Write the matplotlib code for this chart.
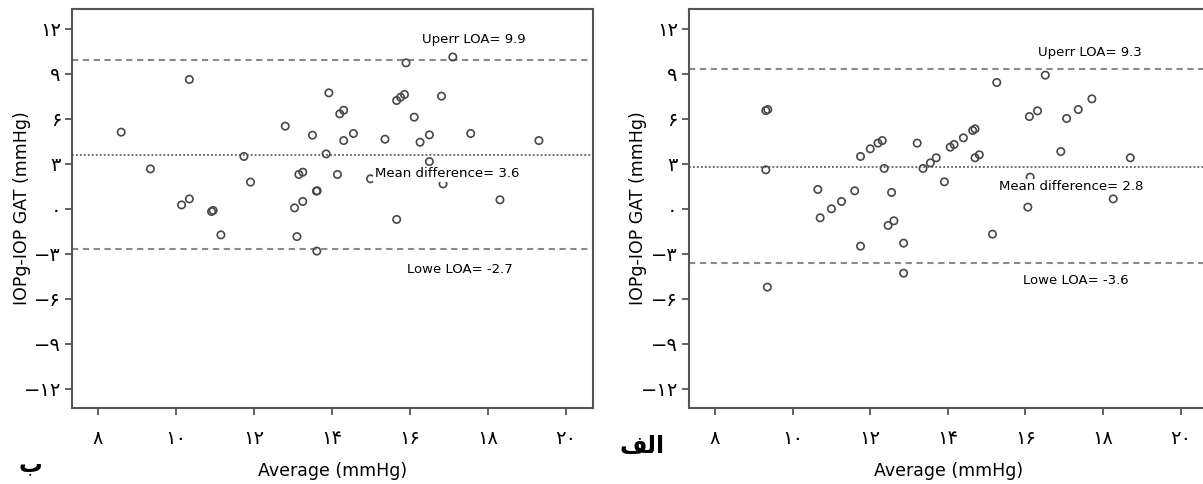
import matplotlib
matplotlib.use("Agg")
from matplotlib import pyplot as plt

# left panel (ب)
avg_b = [8.59, 9.34, 10.14, 10.34, 10.34, 10.91, 10.95, 11.15, 11.74, 11.91,
         12.80, 13.04, 13.10, 13.15, 13.25, 13.25, 13.50, 13.60, 13.62, 13.61,
         13.85, 13.92, 14.14, 14.20, 14.30, 14.30, 14.55, 14.99, 15.36, 15.66,
         15.76, 15.86, 15.66, 15.90, 16.11, 16.26, 16.50, 16.50, 16.85, 16.81,
         17.10, 17.56, 18.31, 19.31]
diff_b = [5.09, 2.64, 0.24, 0.64, 8.60, -0.20, -0.13, -1.76, 3.47, 1.76,
          5.49, 0.04, -1.87, 2.27, 2.42, 0.47, 4.89, 1.16, 1.18, -2.84,
          3.64, 7.71, 2.27, 6.31, 6.55, 4.53, 5.00, 1.98, 4.62, 7.20,
          7.42, 7.60, -0.73, 9.71, 6.09, 4.42, 4.91, 3.13, 1.64, 7.49,
          10.10, 5.00, 0.58, 4.53]
loa_b = {"upper": 9.9, "mean": 3.6, "lower": -2.7}

# right panel (الف)
avg_a = [9.31, 9.36, 9.31, 9.35, 10.65, 10.71, 11.00, 11.26, 11.60, 11.75,
         11.75, 12.00, 12.20, 12.31, 12.36, 12.55, 12.46, 12.61, 12.86, 12.86,
         13.21, 13.36, 13.55, 13.70, 13.91, 14.06, 14.16, 14.40, 14.64, 14.70,
         14.70, 14.81, 15.26, 15.15, 16.06, 16.10, 16.31, 16.12, 16.51, 16.91,
         17.06, 17.36, 17.71, 18.26, 18.70]
diff_a = [6.53, 6.60, 2.58, -5.24, 1.27, -0.62, -0.02, 0.47, 1.18, 3.47,
          -2.51, 3.98, 4.36, 4.53, 2.67, 1.07, -1.13, -0.82, -2.31, -4.31,
          4.36, 2.67, 3.04, 3.38, 1.78, 4.09, 4.27, 4.71, 5.20, 5.31,
          3.38, 3.58, 8.40, -1.71, 0.09, 6.13, 6.51, 2.09, 8.89, 3.80,
          6.00, 6.60, 7.31, 0.64, 3.38]
loa_a = {"upper": 9.3, "mean": 2.8, "lower": -3.6}

x_ticks = [8, 10, 12, 14, 16, 18, 20]
x_labels = ["۸", "۱۰", "۱۲", "۱۴", "۱۶", "۱۸", "۲۰"]
y_ticks = [-12, -9, -6, -3, 0, 3, 6, 9, 12]
y_labels = ["−۱۲", "−۹", "−۶", "−۳", "۰", "۳", "۶", "۹", "۱۲"]

grey = "#555555"

fig = plt.figure(figsize=(12.03, 4.84), dpi=100)
ax_b = fig.add_axes([0.0599, 0.157, 0.4331, 0.8244])
ax_a = fig.add_axes([0.5727, 0.157, 0.4314, 0.8244])


def draw(ax, avg, diff, loa, txt_pos):
    ax.scatter(avg, diff, s=28, facecolors="none", edgecolors="#484848",
               linewidths=1.2, zorder=3)
    ax.axhline(loa["upper"], color="#8a8a8a", lw=1.5, ls=(0, (3, 2.2)), zorder=2)
    ax.axhline(loa["lower"], color="#8a8a8a", lw=1.5, ls=(0, (3, 2.2)), zorder=2)
    ax.axhline(loa["mean"], color="#606060", lw=1.3, ls=(0, (1, 1.2)), zorder=2)
    box = dict(facecolor="white", edgecolor="none", pad=1)
    ax.text(txt_pos[0][0], txt_pos[0][1], "Uperr LOA= %.1f" % loa["upper"],
            ha="center", va="center", fontsize=9.5, bbox=box, zorder=4)
    ax.text(txt_pos[1][0], txt_pos[1][1], "Mean difference= %.1f" % loa["mean"],
            ha="center", va="center", fontsize=9.5, bbox=box, zorder=4)
    ax.text(txt_pos[2][0], txt_pos[2][1], "Lowe LOA= %.1f" % loa["lower"],
            ha="center", va="center", fontsize=9.5, bbox=box, zorder=4)
    ax.set_xlim(7.33, 20.7)
    ax.set_ylim(-13.3, 13.3)
    ax.set_xticks(x_ticks)
    ax.set_xticklabels(x_labels, fontsize=14)
    ax.set_yticks(y_ticks)
    ax.set_yticklabels(y_labels, fontsize=14)
    ax.tick_params(axis="x", length=5, width=1.3, color=grey, pad=10)
    ax.tick_params(axis="y", length=5, width=1.3, color=grey, pad=3)
    for s in ax.spines.values():
        s.set_color(grey)
        s.set_linewidth(1.5)
    ax.set_xlabel("Average (mmHg)", fontsize=12.5, labelpad=10)
    ax.set_ylabel("IOPg-IOP GAT (mmHg)", fontsize=12.5, labelpad=-5)


draw(ax_b, avg_b, diff_b, loa_b, [(17.64, 11.27), (16.95, 2.33), (17.28, -4.07)])
draw(ax_a, avg_a, diff_a, loa_a, [(17.66, 10.4), (17.17, 1.47), (17.3, -4.8)])

# panel letters (visual order for Arabic script)
fig.text(30 / 1203, 1 - 464 / 484, "ب", fontsize=17, fontweight="bold",
         ha="center", va="center")
fig.text(642 / 1203, 1 - 446 / 484, "\ufed2\ufedf\ufe8d", fontsize=17,
         fontweight="bold", ha="center", va="center")

fig.savefig("out.png", dpi=100)
